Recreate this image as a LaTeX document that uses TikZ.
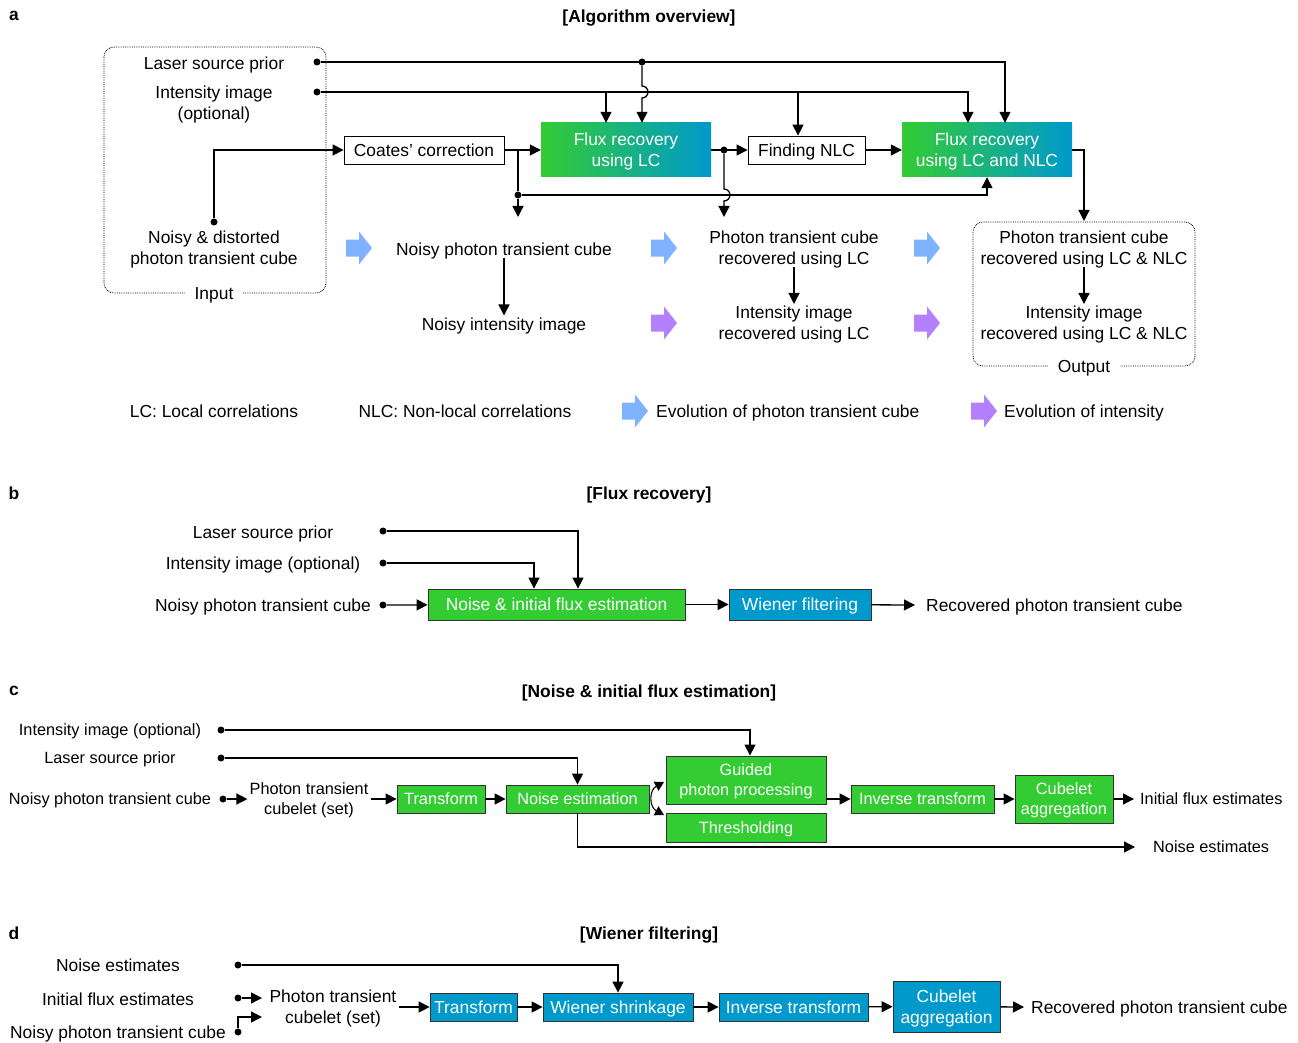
\documentclass[tikz,border=0pt]{standalone}
\usepackage{fontspec}
\setmainfont{Liberation Sans}
\usetikzlibrary{arrows.meta}
\definecolor{fgreen}{RGB}{51,204,51}
\definecolor{fblue}{RGB}{0,153,204}
\definecolor{evblue}{RGB}{128,179,255}
\definecolor{evpurple}{RGB}{179,128,255}

\begin{document}
\begin{tikzpicture}[x=1pt,y=-1pt]
\tikzset{every node/.style={font=\fontsize{17.4}{21}\selectfont, text depth=0pt},
  titre/.style={font=\fontsize{17.4}{21}\selectfont\bfseries},
  petit/.style={font=\fontsize{16.3}{20}\selectfont},
  txt/.style={align=center, inner sep=2pt},
  pnt/.style={circle, fill, inner sep=0pt, minimum size=7pt},
  wbox/.style={draw, line width=0.8pt, fill=white, inner sep=0pt, align=center},
  gbox/.style={draw=black!80, line width=0.8pt, fill=fgreen, text=white, inner sep=0pt, align=center},
  bbox/.style={draw=black!80, line width=0.8pt, fill=fblue, text=white, inner sep=0pt, align=center},
  gradbox/.style={left color=fgreen, right color=fblue, text=white, inner sep=0pt, align=center,
    minimum width=170pt, minimum height=54pt},
  cadre/.style={densely dotted, line width=0.8pt, rounded corners=10pt},
  etiq/.style={fill=white, inner xsep=10pt, inner ysep=3pt},
  arr/.style={-{Triangle[length=11pt,width=11pt]}, line width=1.3pt},
  dbl/.style={{Triangle[length=9pt,width=10pt]}-{Triangle[length=9pt,width=10pt]}, line width=1.1pt}}
\useasboundingbox (0,0) rectangle (1298,1043);

\node[titre] (la) at (14,16) {a};
\node[titre] (ta) at (649,16) {[Algorithm overview]};
\draw[cadre] (104,47) rectangle (326,293);
\node[etiq] (input) at (214,294) {Input};
\draw[cadre] (973,222) rectangle (1195,366);
\node[etiq] (output) at (1084,366) {Output};
\node[txt] (lsp) at (214,63) {Laser source prior};
\node[pnt] (lspd) at (317,62) {};
\node[txt] (ii) at (214,103) {Intensity image\\(optional)};
\node[pnt] (iid) at (317,92) {};
\node[txt] (noisy) at (214,248) {Noisy \& distorted\\photon transient cube};
\node[pnt] (noisyd) at (214,222) {};
\node[wbox, minimum width=160pt, minimum height=28pt] (coates) at (424,150) {Coates' correction};
\node[gradbox] (flc) at (626,150) {Flux recovery\\using LC};
\node[wbox, minimum width=117pt, minimum height=28pt] (fnlc) at (806.5,150) {Finding NLC};
\node[gradbox] (fnl) at (987,150) {Flux recovery\\using LC and NLC};
\node[txt] (npc) at (504,249) {Noisy photon transient cube};
\node[txt] (nii) at (504,324) {Noisy intensity image};
\node[txt] (plc) at (794,248) {Photon transient cube\\recovered using LC};
\node[txt] (ilc) at (794,323) {Intensity image\\recovered using LC};
\node[txt] (pnl) at (1084,248) {Photon transient cube\\recovered using LC \& NLC};
\node[txt] (inl) at (1084,323) {Intensity image\\recovered using LC \& NLC};
\node[pnt] (j1) at (642,62) {};
\node[pnt] (j2) at (518,195) {};
\node[pnt] (j3) at (724,150) {};
\coordinate (ia) at (606,92);
\coordinate (ib) at (798,92);
\coordinate (t1) at (518,217);
\coordinate (t2) at (724,217);
\coordinate (otop) at (1084,221);
\draw[arr] (noisyd) |- (coates);
\draw[arr] (coates) -- (flc);
\draw[line width=1.3pt] (coates.east -| j2) -- (j2);
\draw[arr] (j2) -- (t1);
\draw[arr] (j2) -| (fnl.south);
\draw[arr] (flc) -- (fnlc);
\draw[arr] (j3) -- ++(0,39) arc (-90:90:6) -- (t2);
\draw[arr] (fnlc) -- (fnl);
\draw[arr] (fnl.east) -| (otop);
\draw[arr] (lspd) -| ([xshift=18pt]fnl.north);
\draw[arr] (iid) -| ([xshift=-19pt]fnl.north);
\draw[arr] (j1) -- ++(0,24) arc (-90:90:6) -- (j1 |- flc.north);
\draw[arr] (ia) -- (ia |- flc.north);
\draw[arr] (ib) -- (ib |- fnlc.north);
\draw[arr] (npc) -- (nii);
\draw[arr] (plc) -- (ilc);
\draw[arr] (pnl) -- (inl);
\foreach \x/\y/\c in {359/248/evblue, 664/248/evblue, 927/248/evblue, 664/323/evpurple,
  927/323/evpurple, 635/411/evblue, 984/411/evpurple}
  \fill[\c] (\x-13,\y-8.5) -- (\x,\y-8.5) -- (\x,\y-16.5) -- (\x+13,\y) -- (\x,\y+16.5)
    -- (\x,\y+8.5) -- (\x-13,\y+8.5) -- cycle;
\node[txt] (lc) at (214,411) {LC: Local correlations};
\node[txt] (nlc) at (465,411) {NLC: Non-local correlations};
\node[txt, anchor=west] (evc) at (654,411) {Evolution of photon transient cube};
\node[txt, anchor=west] (evi) at (1002,411) {Evolution of intensity};

\node[titre] (lb) at (14,493) {b};
\node[titre] (tb) at (649,493) {[Flux recovery]};
\node[txt] (blsp) at (263,532) {Laser source prior};
\node[pnt] (blspd) at (383,531) {};
\node[txt] (bii) at (263,563) {Intensity image (optional)};
\node[pnt] (biid) at (383,563) {};
\node[txt] (bnpc) at (263,605) {Noisy photon transient cube};
\node[pnt] (bnpcd) at (383,605) {};
\node[gbox, minimum width=257pt, minimum height=31pt] (nife) at (556.5,604.5) {Noise \& initial flux estimation};
\node[bbox, minimum width=142pt, minimum height=31pt] (wf) at (800,604.5) {Wiener filtering};
\node[txt, anchor=west] (brec) at (924,605) {Recovered photon transient cube};
\coordinate (brecin) at (915,605);
\draw[arr] (blspd) -| ([xshift=21.5pt]nife.north);
\draw[arr] (biid) -| ([xshift=-22.5pt]nife.north);
\draw[arr] (bnpcd) -- (nife);
\draw[arr] (nife) -- (wf);
\draw[arr] (wf) -- (brecin);

\node[titre] (lc2) at (14,691) {c};
\node[titre] (tc) at (649,691) {[Noise \& initial flux estimation]};
\begin{scope}[every node/.append style={petit}]
\node[txt] (cii) at (110,730) {Intensity image (optional)};
\node[pnt] (ciid) at (221,730) {};
\node[txt] (clsp) at (110,758) {Laser source prior};
\node[pnt] (clspd) at (221,758) {};
\node[txt] (cnpc) at (110,799) {Noisy photon transient cube};
\node[pnt] (cnpcd) at (223,799) {};
\node[txt] (ccub) at (309,799) {Photon transient\\cubelet (set)};
\node[gbox, minimum width=88pt, minimum height=28pt] (ctr) at (441,799) {Transform};
\node[gbox, minimum width=143pt, minimum height=28pt] (cne) at (577.5,799) {Noise estimation};
\node[gbox, minimum width=160pt, minimum height=48pt] (cgp) at (746,780) {Guided\\photon processing};
\node[gbox, minimum width=160pt, minimum height=29pt] (cth) at (746,827.5) {Thresholding};
\node[gbox, minimum width=143pt, minimum height=28pt] (cit) at (922.5,799) {Inverse transform};
\node[gbox, minimum width=98pt, minimum height=48pt] (cca) at (1064,799) {Cubelet\\aggregation};
\node[txt, anchor=west] (cife) at (1138,799) {Initial flux estimates};
\node[txt, anchor=west] (cnes) at (1151,847) {Noise estimates};
\end{scope}
\coordinate (cifein) at (1134,799);
\coordinate (cnein) at (1135,847);
\coordinate (ca) at (664,782);
\coordinate (cb) at (664,815);
\draw[arr] (ciid) -| ([xshift=4pt]cgp.north);
\draw[arr] (clspd) -| (cne.north);
\draw[arr] (cnpcd) -- (ccub.west);
\draw[arr] (ccub) -- (ctr);
\draw[arr] (ctr) -- (cne);
\draw[dbl] (ca) .. controls +(-15,8) and +(-15,-8) .. (cb);
\draw[arr] (cgp.east |- cit.west) -- (cit.west);
\draw[arr] (cit) -- (cca);
\draw[arr] (cca) -- (cifein);
\draw[arr] (cne.south) |- (cnein);

\node[titre] (ld) at (14,933) {d};
\node[titre] (td) at (649,933) {[Wiener filtering]};
\node[txt] (dne) at (118,965) {Noise estimates};
\node[pnt] (dned) at (238,965) {};
\node[txt] (dife) at (118,999) {Initial flux estimates};
\node[pnt] (difed) at (238,998) {};
\node[txt] (dnpc) at (118,1032) {Noisy photon transient cube};
\node[pnt] (dnpcd) at (238,1032) {};
\node[txt] (dcub) at (333,1007) {Photon transient\\cubelet (set)};
\coordinate (dcin1) at (262,998);
\coordinate (dcin2) at (262,1017);
\node[bbox, minimum width=87pt, minimum height=28pt] (dtr) at (473.5,1007) {Transform};
\node[bbox, minimum width=150pt, minimum height=28pt] (dws) at (618,1007) {Wiener shrinkage};
\node[bbox, minimum width=149pt, minimum height=28pt] (dit) at (793.5,1007) {Inverse transform};
\node[bbox, minimum width=107pt, minimum height=51pt] (dca) at (946.5,1006.5) {Cubelet\\aggregation};
\node[txt, anchor=west] (drec) at (1029,1007) {Recovered photon transient cube};
\coordinate (drecin) at (1024,1007);
\draw[arr] (dned) -| (dws.north);
\draw[arr] (difed) -- (dcin1);
\draw[arr] (dnpcd) |- (dcin2);
\draw[arr] (dcub) -- (dtr);
\draw[arr] (dtr) -- (dws);
\draw[arr] (dws) -- (dit);
\draw[arr] (dit) -- (dca);
\draw[arr] (dca) -- (drecin);
\end{tikzpicture}
\end{document}
